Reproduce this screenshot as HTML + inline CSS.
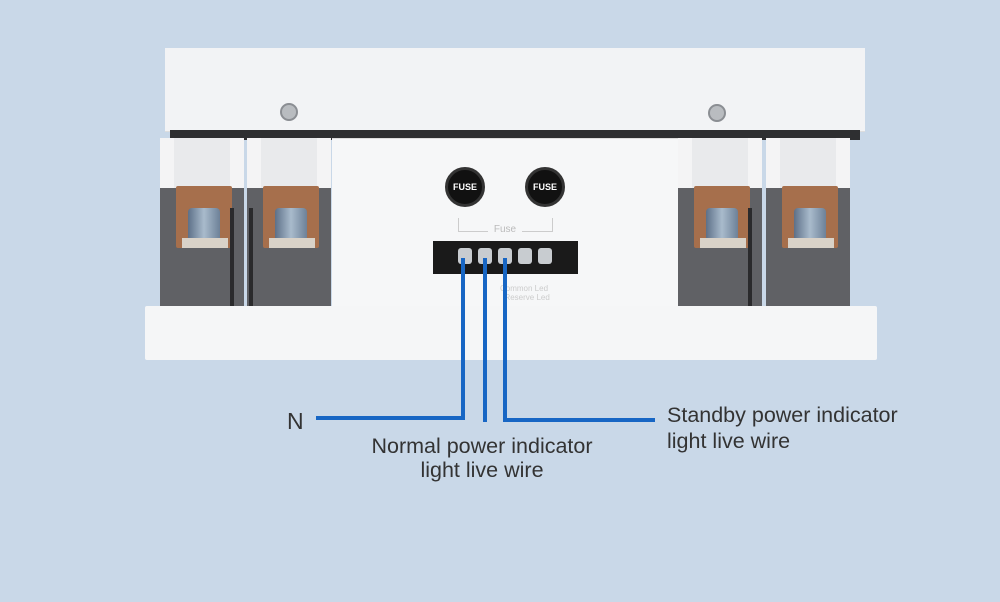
<!DOCTYPE html>
<html><head><style>
body{margin:0;width:1000px;height:602px;background:#c9d8e8;position:relative;overflow:hidden;font-family:"Liberation Sans",sans-serif}
div{position:absolute;box-sizing:border-box}
.u{width:84px;top:138px;height:170px}
.u .t{left:0;top:0;width:84px;height:52px;background:#e9eaec;border-left:14px solid #f4f4f5;border-right:14px solid #f4f4f5}
.u .d{left:0;top:50px;width:84px;height:118px;background:#606165}
.u .c{left:16px;top:48px;width:56px;height:62px;background:#a66f4c;border-radius:2px}
.u .b{left:28px;top:70px;width:32px;height:34px;background:linear-gradient(90deg,#5d7088,#a9bbcc,#6d8198);border-radius:4px}
.u .w{left:22px;top:100px;width:46px;height:10px;background:#d9d2c8}
.u .s{left:70px;top:70px;width:4px;height:98px;background:#2a2a2c}
.wire{background:#1766c4}
.lbl{color:#333;font-size:21.5px;line-height:24px}
</style></head><body>
<div style="left:165px;top:48px;width:700px;height:84px;background:#f2f3f5;border-bottom:1px solid #ddd"></div>
<div style="left:170px;top:130px;width:690px;height:10px;background:#2e2f31"></div>
<div style="left:280px;top:103px;width:18px;height:18px;border-radius:50%;background:#b9bcc0;border:2px solid #8b8e93"></div>
<div style="left:708px;top:104px;width:18px;height:18px;border-radius:50%;background:#b9bcc0;border:2px solid #8b8e93"></div>
<div style="left:145px;top:306px;width:732px;height:54px;background:#f5f6f7;border-radius:2px"></div>
<div class="u" style="left:160px"><div class="t"></div><div class="d"></div><div class="c"></div><div class="b"></div><div class="w"></div><div class="s"></div></div>
<div class="u" style="left:247px"><div class="t"></div><div class="d"></div><div class="c"></div><div class="b"></div><div class="w"></div><div class="s" style="left:2px"></div></div>
<div class="u" style="left:678px"><div class="t"></div><div class="d"></div><div class="c"></div><div class="b"></div><div class="w"></div><div class="s"></div></div>
<div class="u" style="left:766px"><div class="t"></div><div class="d"></div><div class="c"></div><div class="b"></div><div class="w"></div></div>
<div style="left:332px;top:138px;width:346px;height:168px;background:#f6f7f8;border-top:1px solid #ddd"></div>
<div style="left:445px;top:167px;width:40px;height:40px;border-radius:50%;background:#111;border:3px solid #333;color:#fff;font-size:9px;font-weight:bold;text-align:center;line-height:34px">FUSE</div>
<div style="left:525px;top:167px;width:40px;height:40px;border-radius:50%;background:#111;border:3px solid #333;color:#fff;font-size:9px;font-weight:bold;text-align:center;line-height:34px">FUSE</div>
<div style="left:458px;top:218px;width:95px;height:14px;border:1px solid #ccc;border-top:none"></div>
<div style="left:488px;top:224px;width:34px;height:14px;background:#f6f7f8;color:#bbb;font-size:10px;text-align:center">Fuse</div>
<div style="left:433px;top:241px;width:145px;height:33px;background:#1a1a1a"></div>
<div style="left:458px;top:248px;width:14px;height:16px;border-radius:3px;background:#c8ccd0"></div>
<div style="left:478px;top:248px;width:14px;height:16px;border-radius:3px;background:#c8ccd0"></div>
<div style="left:498px;top:248px;width:14px;height:16px;border-radius:3px;background:#c8ccd0"></div>
<div style="left:518px;top:248px;width:14px;height:16px;border-radius:3px;background:#c8ccd0"></div>
<div style="left:538px;top:248px;width:14px;height:16px;border-radius:3px;background:#c8ccd0"></div>
<div style="left:500px;top:284px;color:#ccc;font-size:8px;line-height:9px">Common Led<br>&nbsp;&nbsp;Reserve Led</div>
<div class="wire" style="left:461px;top:258px;width:4px;height:162px"></div>
<div class="wire" style="left:316px;top:416px;width:149px;height:4px"></div>
<div class="wire" style="left:483px;top:258px;width:4px;height:164px"></div>
<div class="wire" style="left:503px;top:258px;width:4px;height:164px"></div>
<div class="wire" style="left:503px;top:418px;width:152px;height:4px"></div>
<div class="lbl" style="left:287px;top:407px;font-size:23px;line-height:28px">N</div>
<div class="lbl" style="left:342px;top:434px;width:280px;text-align:center">Normal power indicator<br>light live wire</div>
<div class="lbl" style="left:667px;top:402px;line-height:26px">Standby power indicator<br>light live wire</div>
</body></html>
